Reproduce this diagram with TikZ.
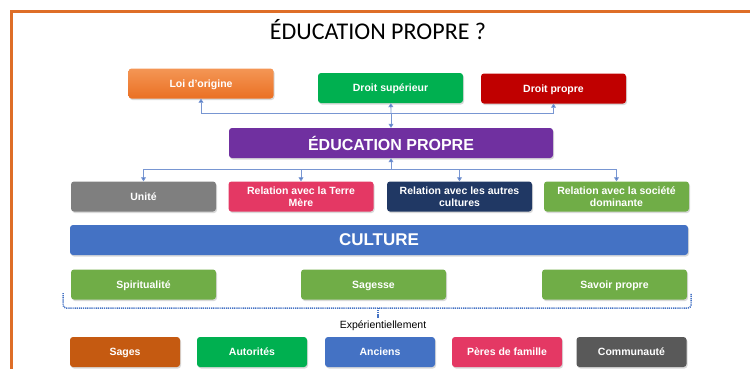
\documentclass[tikz,border=0pt]{standalone}
\usepackage{fontspec}
\setmainfont{Liberation Sans}
\newfontfamily\titrefont{Carlito}
\usetikzlibrary{shadows,arrows.meta}
\definecolor{cadre}{RGB}{222,110,40}
\definecolor{loihaut}{RGB}{244,150,85}
\definecolor{loibas}{RGB}{234,112,35}
\definecolor{vert}{RGB}{0,176,80}
\definecolor{rouge}{RGB}{192,0,0}
\definecolor{violet}{RGB}{112,48,160}
\definecolor{gris}{RGB}{127,127,127}
\definecolor{rose}{RGB}{228,56,100}
\definecolor{marine}{RGB}{32,56,100}
\definecolor{vertclair}{RGB}{112,173,71}
\definecolor{bleu}{RGB}{68,114,196}
\definecolor{brun}{RGB}{197,90,17}
\definecolor{grisfonce}{RGB}{89,89,89}
\definecolor{bleulien}{RGB}{120,150,210}
\begin{document}
\begin{tikzpicture}[x=1pt,y=-1pt,
    boite/.style={rounded corners=3pt,inner sep=0pt,minimum width=145pt,minimum height=30pt,text=white,align=center,text depth=0pt,
        font=\bfseries\fontsize{10.5}{12.6}\selectfont,drop shadow={shadow xshift=1pt,shadow yshift=-1.5pt,opacity=0.3}},
    grande/.style={boite,font=\bfseries\fontsize{16}{19}\selectfont},
    lien/.style={draw=bleulien,line width=0.8pt,-{Triangle[length=4pt,width=5pt,fill=bleu]}},
    pointille/.style={draw=bleu,line width=1.5pt,dash pattern=on 1.2pt off 0.9pt}]
    \useasboundingbox (0,0) rectangle (750,368);
    \draw[cadre,line width=2.5pt] (11.5,11.5) rectangle (780,400);
    \node[font=\titrefont\fontsize{24}{28}\selectfont] (titre) at (378,30) {ÉDUCATION PROPRE ?};
    \node[boite,top color=loihaut,bottom color=loibas] (loi) at (201,83.5) {Loi d’origine};
    \node[boite,fill=vert] (dsup) at (390.5,88) {Droit supérieur};
    \node[boite,fill=rouge] (dprop) at (553.5,88.5) {Droit propre};
    \node[grande,fill=violet,minimum width=324pt] (edu) at (391,143) {ÉDUCATION PROPRE};
    \foreach \nom/\x/\coul/\txt in {unite/143.5/gris/Unité,terre/301/rose/Relation avec la Terre\\Mère,
        autres/459.5/marine/Relation avec les autres\\cultures,societe/616.5/vertclair/Relation avec la société\\dominante}
        \node[boite,fill=\coul] (\nom) at (\x,196.5) {\txt};
    \node[grande,fill=bleu,minimum width=618pt,font=\bfseries\fontsize{17}{20}\selectfont] (culture) at (379,240) {CULTURE};
    \foreach \nom/\x/\txt in {spirit/143.5/Spiritualité,sagesse/373.5/Sagesse,savoir/614.5/Savoir propre}
        \node[boite,fill=vertclair] (\nom) at (\x,284.5) {\txt};
    \foreach \nom/\x/\coul/\txt in {sages/125/brun/Sages,autorites/252/vert/Autorités,anciens/380/bleu/Anciens,
        peres/507/rose/Pères de famille,commu/631.5/grisfonce/Communauté}
        \node[boite,fill=\coul,minimum width=110pt] (\nom) at (\x,352) {\txt};
    \coordinate (haut) at (391,113.5);
    \coordinate (bas) at (391,169);
    \draw[lien] (haut) -| (loi);
    \draw[lien] (haut) -- (dsup);
    \draw[lien] (haut) -| (dprop);
    \draw[lien] (haut) -- (edu);
    \draw[lien] (bas) -- (edu);
    \foreach \nom in {unite,terre,autres,societe}
        \draw[lien] (bas) -| (\nom);
    \node[font=\fontsize{10.5}{12}\selectfont] (exp) at (383,326) {Expérientiellement};
    \coordinate (accg) at (63,293);
    \coordinate (accm) at (378,308);
    \coordinate (accd) at (691,293);
    \draw[pointille,rounded corners=3pt] (accg) |- (accm) -| (accd);
    \draw[pointille] (accm) -- (accm |- exp.north);
\end{tikzpicture}
\end{document}
